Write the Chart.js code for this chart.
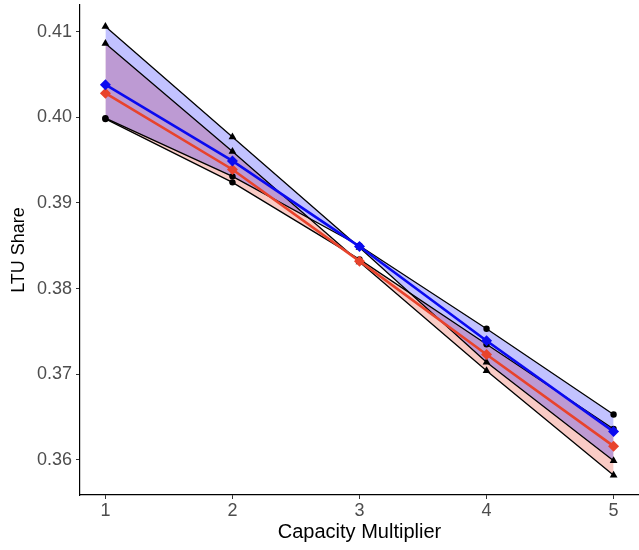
<!DOCTYPE html>
<html>
<head>
<meta charset="utf-8">
<script src="https://cdn.jsdelivr.net/npm/chart.js@4/dist/chart.umd.min.js"></script>
<style>
  html, body { margin: 0; padding: 0; background: #ffffff; }
  #c { display: block; }
</style>
</head>
<body>
<canvas id="c" width="639" height="550"></canvas>
<script>
// ---- data ----
const capacity = [1, 2, 3, 4, 5];
const blueMean     = [0.4038, 0.3949, 0.3849, 0.3739, 0.3633];
const blueCircle   = [0.3999, 0.3931, 0.3850, 0.3753, 0.3653];
const blueTriangle = [0.4106, 0.3977, 0.3848, 0.3714, 0.3599];
const redMean      = [0.4028, 0.3939, 0.3832, 0.3723, 0.3616];
const redCircle    = [0.3998, 0.3924, 0.3834, 0.3735, 0.3636];
const redTriangle  = [0.4086, 0.3960, 0.3831, 0.3704, 0.3582];
const xTickValues = [1, 2, 3, 4, 5];
const yTickValues = [0.36, 0.37, 0.38, 0.39, 0.40, 0.41];
const xTitle = 'Capacity Multiplier';
const yTitle = 'LTU Share';

const toPts = (arr) => arr.map((v, i) => ({ x: capacity[i], y: v }));

const BLUE = '#0a0af0';
const RED = '#e8432c';
const BLUE_FILL = 'rgba(0,0,255,0.24)';
const RED_FILL = 'rgba(232,64,40,0.27)';
const FONT = 'Liberation Sans, Arial, Helvetica, sans-serif';

const boundStyle = (style, radius) => ({
  borderColor: '#000000',
  borderWidth: 1.3,
  pointStyle: style,
  pointRadius: radius,
  pointBackgroundColor: '#000000',
  pointBorderColor: '#000000',
  pointBorderWidth: 0,
  tension: 0
});

const datasets = [
  // 0 blue mean
  { data: toPts(blueMean), borderColor: BLUE, borderWidth: 2.6, pointStyle: 'rectRot',
    pointRadius: 5.5, pointBackgroundColor: BLUE, pointBorderColor: BLUE, pointBorderWidth: 0,
    fill: false, order: 0 },
  // 1 red mean
  { data: toPts(redMean), borderColor: RED, borderWidth: 2.6, pointStyle: 'rectRot',
    pointRadius: 5.5, pointBackgroundColor: RED, pointBorderColor: RED, pointBorderWidth: 0,
    fill: false, order: 1 },
  // 2 blue triangle bound (fills to 3)
  Object.assign({ data: toPts(blueTriangle), fill: { target: 3 }, backgroundColor: BLUE_FILL, order: 2 },
    boundStyle('triangle', 4.5)),
  // 3 blue circle bound
  Object.assign({ data: toPts(blueCircle), fill: false, order: 3 }, boundStyle('circle', 3.2)),
  // 4 red triangle bound (fills to 5)
  Object.assign({ data: toPts(redTriangle), fill: { target: 5 }, backgroundColor: RED_FILL, order: 4 },
    boundStyle('triangle', 4.5)),
  // 5 red circle bound
  Object.assign({ data: toPts(redCircle), fill: false, order: 5 }, boundStyle('circle', 3.2))
];

new Chart(document.getElementById('c'), {
  type: 'line',
  data: { datasets },
  options: {
    responsive: false,
    animation: false,
    devicePixelRatio: 1,
    layout: { autoPadding: false, padding: { top: 5, right: 0, left: 0, bottom: 0 } },
    plugins: {
      legend: { display: false },
      tooltip: { enabled: false },
      filler: { drawTime: 'beforeDatasetsDraw' }
    },
    scales: {
      x: {
        type: 'linear',
        min: 0.8,
        max: 5.2,
        afterBuildTicks: (s) => { s.ticks = xTickValues.map(v => ({ value: v })); },
        afterFit: (s) => { s.height = 55; s.paddingLeft = 0; s.paddingRight = 0; },
        grid: { drawOnChartArea: false, drawTicks: true, tickLength: 4, color: '#333333', lineWidth: 1 },
        border: { display: true, color: '#000000', width: 1.2 },
        ticks: { color: '#4d4d4d', font: { family: FONT, size: 18 }, padding: 1, maxRotation: 0,
                 callback: (v) => String(v) },
        title: { display: true, text: xTitle, color: '#000000', font: { family: FONT, size: 20 },
                 padding: { top: 0, bottom: 6 } }
      },
      y: {
        type: 'linear',
        min: 0.3559,
        max: 0.4131,
        afterBuildTicks: (s) => { s.ticks = yTickValues.map(v => ({ value: v })); },
        afterFit: (s) => { s.width = 80; s.paddingTop = 0; s.paddingBottom = 0; },
        grid: { drawOnChartArea: false, drawTicks: true, tickLength: 4, color: '#333333', lineWidth: 1 },
        border: { display: true, color: '#000000', width: 1.2 },
        ticks: { color: '#4d4d4d', font: { family: FONT, size: 18 }, padding: 4,
                 callback: (v) => Number(v).toFixed(2) },
        title: { display: true, text: yTitle, color: '#000000', font: { family: FONT, size: 18 },
                 padding: { top: 8, bottom: 0 } }
      }
    }
  }
});
</script>
</body>
</html>
